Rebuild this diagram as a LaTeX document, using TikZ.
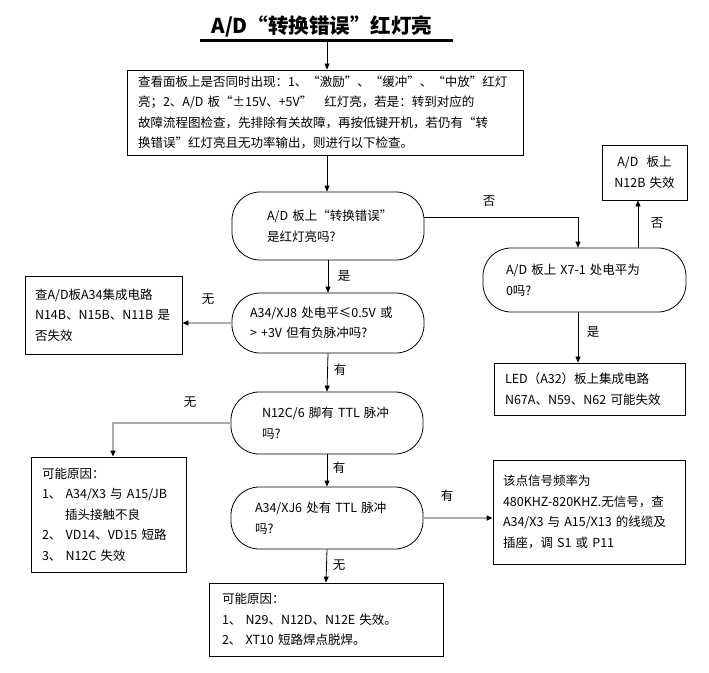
\documentclass[tikz,border=0pt]{standalone}
\usepackage{fontspec}
\setmainfont{Noto Sans CJK SC}
\usetikzlibrary{arrows.meta}
\newcommand{\bodyf}{\fontsize{12.5}{20.5}\selectfont}
\tikzset{
  bx/.style={draw, line width=0.8pt, align=left, inner ysep=2pt, font=\bodyf},
  term/.style={bx, rounded corners=28pt},
  lbl/.style={font=\bodyf, inner sep=0pt},
  arr/.style={-{Triangle[length=6pt,width=5pt]}, line width=0.8pt},
  garr/.style={-{Triangle[length=6pt,width=5pt,color=black]}, line width=2pt, draw=gray!65},
}
\begin{document}
\begin{tikzpicture}[x=1pt,y=-1pt]
\useasboundingbox (0,0) rectangle (709,672);
% title
\node[inner sep=0pt, font=\fontsize{20.5}{24}\selectfont\bfseries] (title) at (322,26) {A/D“转换错误”红灯亮};
\draw[line width=3pt] (200,40) -- (453,40);
\coordinate (ul) at (327,40);
% boxes
\node[bx, minimum height=85pt, inner xsep=11pt, text width=374pt] (b1) at (325,112.5)
 {查看面板上是否同时出现：1、“激励”、“缓冲”、“中放”红灯\\
  亮；2、A/D 板“±15V、+5V”\hspace{12pt}红灯亮，若是：转到对应的\\
  故障流程图检查，先排除有关故障，再按低键开机，若仍有“转\\
  换错误”红灯亮且无功率输出，则进行以下检查。};
\node[term, minimum height=68pt, inner xsep=35pt, text width=122pt] (t1) at (328,226)
 {A/D~板上“转换错误”\\是红灯亮吗?};
\node[term, minimum height=64pt, inner xsep=23pt, text width=157pt] (tr) at (584.5,280)
 {A/D~板上~X7-1~处电平为\\0吗?};
\node[bx, align=center, minimum height=55pt, inner xsep=4pt, text width=77pt] (n12b) at (644.5,172.5)
 {A/D\ \ 板上\\N12B~失效};
\node[bx, minimum height=52pt, inner xsep=11pt, text width=169pt] (led) at (589.5,389)
 {LED（A32）板上集成电路\\N67A、N59、N62~可能失效};
\node[term, minimum height=60pt, inner xsep=18pt, text width=156pt] (t2) at (328,323)
 {A34/XJ8~处电平≤0.5V~或\\>~+3V~但有负脉冲吗?};
\node[bx, minimum height=78pt, inner xsep=10pt, text width=137pt] (l1) at (103.5,315)
 {查A/D板A34集成电路\\N14B、N15B、N11B~是\\否失效};
\node[term, minimum height=62pt, inner xsep=31pt, text width=130pt] (t3) at (327,423)
 {N12C/6~脚有~TTL~脉冲\\吗?};
\node[bx, minimum height=115pt, inner xsep=11pt, text width=133pt] (l2) at (108.5,514.5)
 {可能原因：\\1、~A34/X3~与~A15/JB\\\hspace*{23pt}插头接触不良\\2、~VD14、VD15~短路\\3、~N12C~失效};
\node[term, minimum height=62pt, inner xsep=24pt, text width=144pt] (t4) at (327,518)
 {A34/XJ6~处有~TTL~脉冲\\吗?};
\node[bx, minimum height=104pt, inner xsep=10pt, text width=172pt] (r2) at (589,512)
 {该点信号频率为\\480KHZ-820KHZ.无信号，查\\A34/X3~与~A15/X13~的线缆及\\插座，调~S1~或~P11};
\node[bx, minimum height=73pt, inner xsep=13pt, text width=208pt] (bt) at (326,619.5)
 {可能原因：\\1、~N29、N12D、N12E~失效。\\2、~XT10~短路焊点脱焊。};
% connectors
\draw[arr] (ul) -- (ul |- b1.north);
\draw[arr] (ul |- b1.south) -- (ul |- t1.north);
\coordinate (c1) at (424,217);
\draw[arr] (c1) -| (578,0 |- tr.north);
\draw[arr] (638,0 |- tr.north) -- (638,0 |- n12b.south);
\draw[arr] (578,0 |- tr.south) -- (578,0 |- led.north);
\draw[arr] (t1.south) -- (t2.north);
\draw[garr] (t2.west) -- (l1.east |- t2.west);
\draw[arr] (t2.south) -- (t3.north);
\draw[garr] (t3.west) -| (113,0 |- l2.north);
\draw[arr] (t3.south) -- (t4.north);
\draw[garr] (t4.east) -- (r2.west |- t4.east);
\draw[arr] (t4.south) -- (bt.north);
% labels
\node[lbl] (lf1) at (489,201) {否};
\node[lbl] (lf2) at (657,223) {否};
\node[lbl] (ls1) at (593,332) {是};
\node[lbl] (ls2) at (344,276) {是};
\node[lbl] (lw1) at (208,299) {无};
\node[lbl] (ly1) at (340,370) {有};
\node[lbl] (lw2) at (190,402) {无};
\node[lbl] (ly2) at (339,468) {有};
\node[lbl] (ly3) at (447,496) {有};
\node[lbl] (lw3) at (339,565) {无};
\end{tikzpicture}
\end{document}
